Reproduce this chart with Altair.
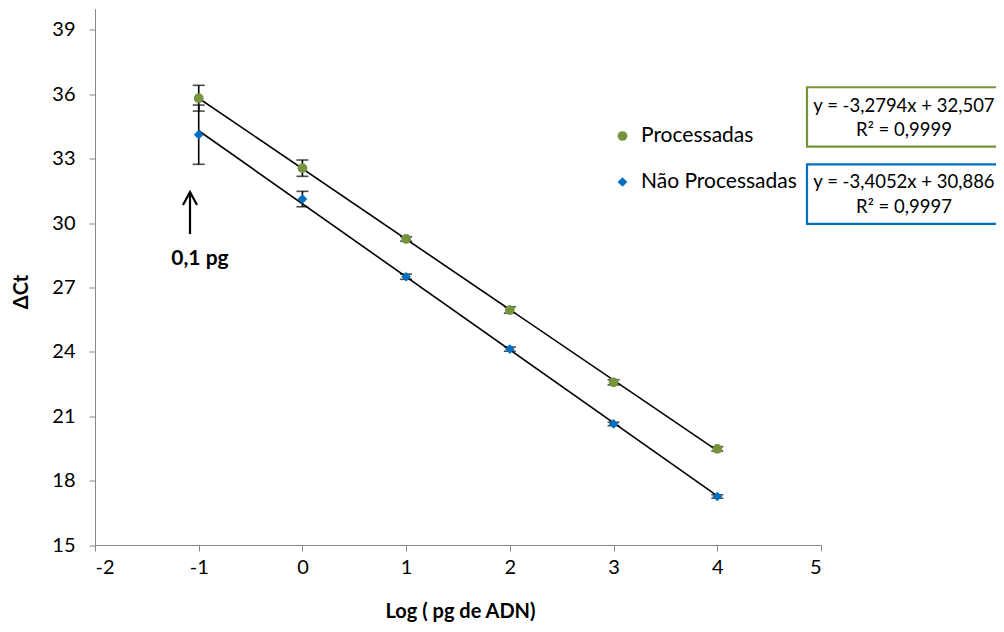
import altair as alt
import pandas as pd

# ---- data ----
log_pg = [-1, 0, 1, 2, 3, 4]
proc = [35.82, 32.56, 29.26, 25.95, 22.58, 19.48]
proc_err = [0.60, 0.38, 0.10, 0.15, 0.12, 0.10]
nproc = [34.12, 31.12, 27.50, 24.13, 20.64, 17.26]
nproc_err = [1.38, 0.36, 0.12, 0.10, 0.08, 0.08]
series_names = ["Processadas", "Não Processadas"]
series_colors = ["#77933C", "#0070C0"]
x_ticks = [-2, -1, 0, 1, 2, 3, 4, 5]
y_ticks = [15, 18, 21, 24, 27, 30, 33, 36, 39]

rows = []
for x, v, e in zip(log_pg, proc, proc_err):
    rows.append({"x": x, "y": v, "lo": v - e, "hi": v + e, "series": series_names[0]})
for x, v, e in zip(log_pg, nproc, nproc_err):
    rows.append({"x": x, "y": v, "lo": v - e, "hi": v + e, "series": series_names[1]})
df = pd.DataFrame(rows)

FONT = "Lato"

xscale = alt.Scale(domain=[-2, 5], nice=False, zero=False)
yscale = alt.Scale(domain=[15, 40], nice=False, zero=False)

xenc = alt.X("x:Q", scale=xscale,
             axis=alt.Axis(values=x_ticks, title="Log ( pg de ADN)", grid=False,
                           labelExpr="'' + datum.value",
                           domainColor="#868686", tickColor="#868686", tickSize=6,
                           labelPadding=6, labelFontSize=20, labelColor="#000000",
                           labelFont=FONT, titleFont=FONT, titleFontSize=20,
                           titleFontWeight="bold", titleColor="#000000",
                           titleX=365, titleY=66, titleBaseline="middle"))
yenc = alt.Y("y:Q", scale=yscale,
             axis=alt.Axis(values=y_ticks, title="ΔCt", grid=False,
                           domainColor="#868686", tickColor="#868686", tickSize=6,
                           labelPadding=14, labelFontSize=20, labelColor="#000000",
                           labelFont=FONT, titleFont=FONT, titleFontSize=20,
                           titleFontWeight="bold", titleColor="#000000",
                           titleX=-74, titleY=283, titleBaseline="middle",
                           titleAlign="center"))

base = alt.Chart(df)

color = alt.Color("series:N", scale=alt.Scale(domain=series_names, range=series_colors),
                  legend=alt.Legend(title=None, orient="none", legendX=517, legendY=117,
                                    labelFont=FONT, labelFontSize=21, labelColor="#000000",
                                    symbolSize=95, rowPadding=24, padding=0,
                                    labelOffset=8, symbolStrokeWidth=0))
shape = alt.Shape("series:N", scale=alt.Scale(domain=series_names, range=["circle", "diamond"]))

trend = base.transform_regression("x", "y", groupby=["series"], extent=[-1, 4]).mark_line(
    color="black", strokeWidth=1.6).encode(x=xenc, y=yenc, detail="series:N")

err_rule = base.mark_rule(color="black", strokeWidth=1.6).encode(
    x=alt.X("x:Q", scale=xscale), y=alt.Y("lo:Q", scale=yscale), y2="hi:Q")
cap_lo = base.mark_tick(color="black", thickness=1.6, size=12, orient="horizontal").encode(
    x=alt.X("x:Q", scale=xscale), y=alt.Y("lo:Q", scale=yscale))
cap_hi = base.mark_tick(color="black", thickness=1.6, size=12, orient="horizontal").encode(
    x=alt.X("x:Q", scale=xscale), y=alt.Y("hi:Q", scale=yscale))

pts = base.mark_point(filled=True, size=95, opacity=1).encode(
    x=alt.X("x:Q", scale=xscale), y=alt.Y("y:Q", scale=yscale), color=color, shape=shape)

# ---- annotations (in data units) ----
boxes = pd.DataFrame({
    "x1": [4.865, 4.865], "x2": [6.85, 6.85],
    "y1": [36.33, 32.74], "y2": [33.56, 29.96],
    "c": series_names,
})
box = alt.Chart(boxes).mark_rect(fill="white", strokeWidth=2.2).encode(
    x=alt.X("x1:Q", scale=xscale), x2="x2:Q",
    y=alt.Y("y1:Q", scale=yscale), y2="y2:Q",
    stroke=alt.Stroke("c:N", scale=alt.Scale(domain=series_names, range=series_colors), legend=None))

eq_text = pd.DataFrame({
    "x": [5.80, 5.80, 5.80, 5.80],
    "y": [35.47, 34.33, 31.92, 30.75],
    "t": ["y = -3,2794x + 32,507", "R² = 0,9999", "y = -3,4052x + 30,886", "R² = 0,9997"],
})
eqs = alt.Chart(eq_text).mark_text(font=FONT, fontSize=18.5, color="#000000", align="center",
                                   baseline="middle").encode(
    x=alt.X("x:Q", scale=xscale), y=alt.Y("y:Q", scale=yscale), text="t:N")

arrow_df = pd.DataFrame({"x": [-1.084], "y_tip": [31.45], "y_tail": [29.49]})
arrow_shaft = alt.Chart(arrow_df).mark_rule(color="black", strokeWidth=2.2).encode(
    x=alt.X("x:Q", scale=xscale), y=alt.Y("y_tip:Q", scale=yscale), y2="y_tail:Q")
arrow_head = alt.Chart(arrow_df).mark_point(
    shape="M-0.54,1L0,0L0.54,1", size=676, filled=False, color="black",
    strokeWidth=2.2, opacity=1).encode(
    x=alt.X("x:Q", scale=xscale), y=alt.Y("y_tip:Q", scale=yscale))

lbl_df = pd.DataFrame({"x": [-0.988], "y": [28.33], "t": ["0,1 pg"]})
lbl = alt.Chart(lbl_df).mark_text(font=FONT, fontSize=21, fontWeight="bold", color="#000000",
                                  baseline="middle").encode(
    x=alt.X("x:Q", scale=xscale), y=alt.Y("y:Q", scale=yscale), text="t:N")

chart = alt.layer(trend, err_rule, cap_lo, cap_hi, pts, box, eqs, arrow_shaft, arrow_head, lbl).properties(
    width=726, height=536.5,
    background="white",
    autosize=alt.AutoSizeParams(type="none"),
    padding={"left": 87, "top": 0.5, "right": 175, "bottom": 79},
).configure_view(stroke="transparent", strokeWidth=0)

chart.save("out.html", embed_options={"renderer": "svg", "actions": False})
